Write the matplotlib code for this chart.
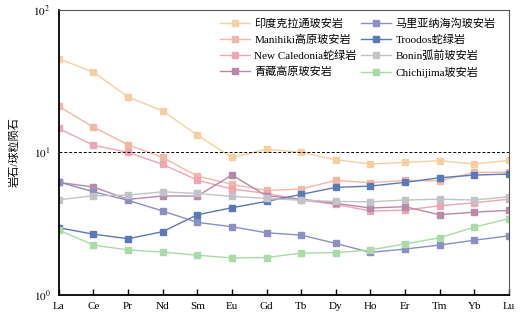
import numpy as np
import matplotlib.pyplot as plt
from matplotlib.ticker import NullLocator

plt.rcParams['font.family'] = ['Liberation Serif', 'Noto Sans CJK SC']
plt.rcParams['mathtext.fontset'] = 'stix'

# REE elements
elements = ['La', 'Ce', 'Pr', 'Nd', 'Sm', 'Eu', 'Gd', 'Tb', 'Dy', 'Ho', 'Er', 'Tm', 'Yb', 'Lu']

# chondrite-normalised values
india = [45.2, 36.5, 24.4, 19.5, 13.2, 9.2, 10.5, 10.0, 8.87, 8.28, 8.5, 8.73, 8.28, 8.78]
manihiki = [21.0, 15.0, 11.3, 9.2, 6.82, 5.96, 5.41, 5.53, 6.36, 6.12, 6.36, 6.3, 7.23, 7.25]
new_cal = [14.7, 11.2, 10.0, 8.23, 6.39, 5.53, 5.15, 4.63, 4.32, 3.88, 3.93, 4.22, 4.43, 4.7]
tibet = [6.16, 5.71, 4.68, 4.94, 4.94, 6.93, 4.96, 4.7, 4.39, 4.07, 4.16, 3.65, 3.81, 3.92]
mariana = [6.2, 5.29, 4.61, 3.88, 3.23, 3.01, 2.73, 2.63, 2.30, 1.99, 2.10, 2.24, 2.42, 2.60]
troodos = [2.96, 2.67, 2.48, 2.78, 3.65, 4.09, 4.53, 5.07, 5.68, 5.8, 6.16, 6.63, 6.93, 7.04]
bonin = [4.65, 4.96, 5.01, 5.29, 5.15, 4.91, 4.76, 4.61, 4.53, 4.5, 4.63, 4.7, 4.63, 4.88]
chichijima = [2.85, 2.24, 2.07, 2.0, 1.90, 1.82, 1.83, 1.97, 1.98, 2.07, 2.28, 2.52, 2.99, 3.43]

series = [
    ('印度克拉通玻安岩', india, '#f5cf9f'),
    ('Manihiki高原玻安岩', manihiki, '#f0b8a6'),
    ('New Caledonia蛇绿岩', new_cal, '#eea6b4'),
    ('青藏高原玻安岩', tibet, '#b98aa8'),
    ('马里亚纳海沟玻安岩', mariana, '#8b8fc2'),
    ('Troodos蛇绿岩', troodos, '#5c79b7'),
    ('Bonin弧前玻安岩', bonin, '#c2c2c9'),
    ('Chichijima玻安岩', chichijima, '#a9dba6'),
]

fig = plt.figure(figsize=(5.3, 3.2), dpi=100)
ax = fig.add_axes([0.111, 0.078, 0.849, 0.892])

x = np.arange(len(elements))
for name, vals, col in series:
    ax.plot(x, vals, '-s', color=col, lw=1.0, ms=3.8, label=name)

ax.axhline(10, color='black', ls='--', lw=0.7, dashes=(3, 2))

ax.set_yscale('log')
ax.set_ylim(1, 100)
ax.set_xlim(0, 13)
ax.set_yticks([1, 10, 100])
ax.set_yticklabels(['$10^0$', '$10^1$', '$10^2$'], fontsize=8)
ax.yaxis.set_minor_locator(NullLocator())
ax.tick_params(axis='y', length=0, pad=6)
ax.set_xticks(x)
ax.set_xticklabels(elements, fontsize=8)
ax.tick_params(axis='x', direction='in', length=4, width=1, pad=5)

ax.set_ylabel('岩石/球粒陨石', fontsize=8, labelpad=10)

for s in ['left', 'bottom']:
    ax.spines[s].set_linewidth(1.3)
for s in ['top', 'right']:
    ax.spines[s].set_linewidth(0.8)
    ax.spines[s].set_color('#555555')

ax.legend(ncol=2, frameon=False, fontsize=8, loc='upper left',
          bbox_to_anchor=(0.348, 0.985), borderaxespad=0,
          handlelength=2.7, columnspacing=0.4,
          handletextpad=0.4, labelspacing=0.5)

plt.savefig('out.png', dpi=100)
